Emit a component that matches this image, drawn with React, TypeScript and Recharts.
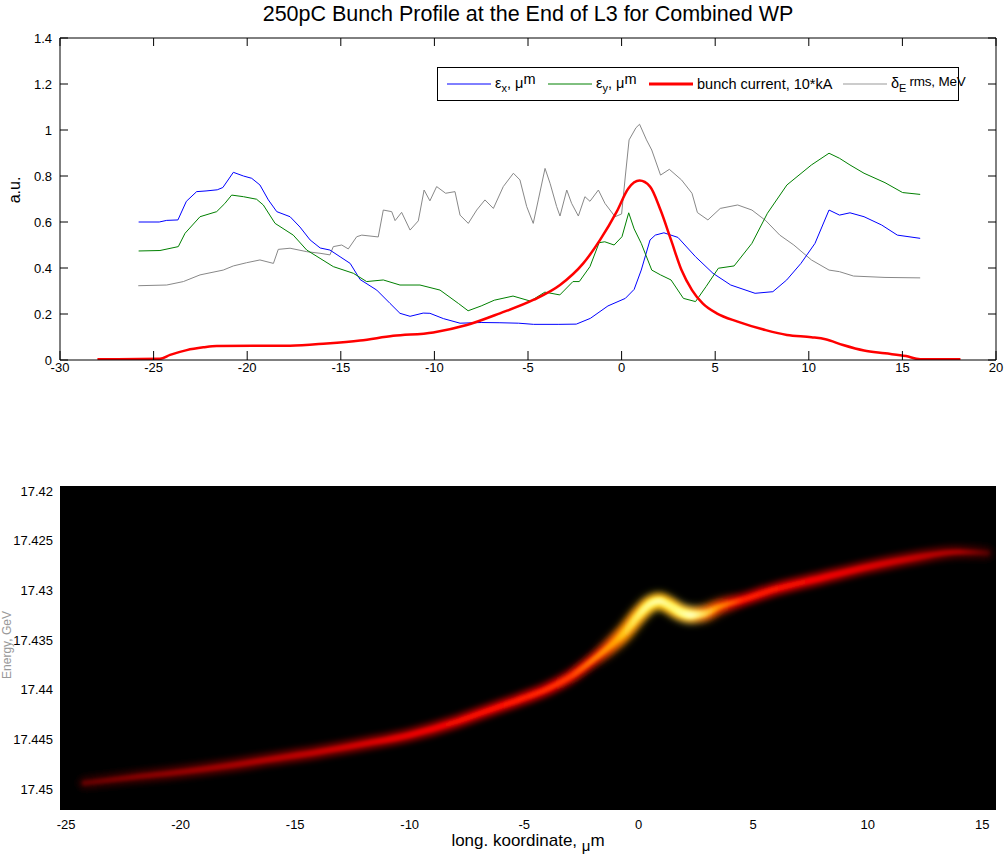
import React from 'react';
import { LineChart, Line, XAxis, YAxis, CartesianGrid } from 'recharts';

const FONT = '"Liberation Sans", Arial, Helvetica, sans-serif';

// ---------------- top panel data ----------------
const epsXPos = [-25.8, -24.7, -24.3, -23.7, -23.25, -22.7, -22.2, -21.6, -21.3, -20.74, -20.2, -19.76, -19.32, -18.87, -18.42, -17.71, -17.18, -16.64, -16.1, -15.58, -15.04, -14.5, -13.97, -13.08, -12.37, -11.84, -11.3, -10.6, -10.24, -9.52, -8.63, -7.5, -6.5, -5.5, -4.7, -3.35, -2.42, -1.67, -0.73, 0.2, 0.67, 1.05, 1.52, 1.8, 2.26, 3.01, 3.95, 4.88, 5.83, 7.13, 8.08, 8.82, 9.58, 10.33, 11.08, 11.64, 12.2, 12.95, 13.89, 14.73, 15.95];
const epsXVal = [0.6, 0.6, 0.607, 0.609, 0.69, 0.732, 0.735, 0.74, 0.75, 0.816, 0.8, 0.79, 0.761, 0.696, 0.645, 0.623, 0.578, 0.522, 0.487, 0.478, 0.449, 0.42, 0.35, 0.304, 0.246, 0.203, 0.19, 0.204, 0.203, 0.18, 0.16, 0.163, 0.162, 0.16, 0.155, 0.155, 0.156, 0.181, 0.235, 0.268, 0.307, 0.391, 0.522, 0.543, 0.553, 0.533, 0.449, 0.377, 0.326, 0.29, 0.297, 0.348, 0.42, 0.507, 0.652, 0.63, 0.64, 0.623, 0.587, 0.543, 0.529];

const epsYPos = [-25.8, -24.66, -23.68, -23.32, -22.52, -21.63, -21.2, -20.83, -20.2, -19.5, -19.14, -18.51, -17.54, -16.82, -16.11, -15.4, -14.33, -13.62, -12.73, -11.84, -10.77, -9.7, -8.72, -8.2, -7.5, -6.8, -5.8, -4.87, -4.1, -3.3, -2.6, -2.26, -1.69, -1.2, -0.9, -0.4, 0.02, 0.38, 0.67, 1.05, 1.61, 2.08, 2.64, 3.3, 3.95, 4.51, 5.17, 6.01, 6.96, 7.79, 8.83, 10.14, 11.08, 11.64, 12.2, 12.95, 14.07, 15.01, 15.95];
const epsYVal = [0.474, 0.476, 0.493, 0.551, 0.623, 0.645, 0.68, 0.717, 0.71, 0.699, 0.674, 0.594, 0.543, 0.478, 0.442, 0.406, 0.377, 0.341, 0.348, 0.326, 0.326, 0.304, 0.246, 0.214, 0.235, 0.26, 0.278, 0.256, 0.295, 0.283, 0.341, 0.341, 0.406, 0.51, 0.514, 0.5, 0.536, 0.64, 0.57, 0.507, 0.391, 0.37, 0.348, 0.268, 0.254, 0.319, 0.399, 0.409, 0.507, 0.638, 0.761, 0.848, 0.899, 0.877, 0.848, 0.812, 0.771, 0.728, 0.72];

const currentPos = [-28.0, -24.66, -24.12, -23.23, -22.34, -21.63, -17.71, -15.75, -13.97, -12.2, -10.06, -8.27, -6.5, -4.72, -3.29, -2.05, -1.15, -0.26, 0.36, 0.96, 1.52, 2.08, 2.64, 3.2, 3.76, 4.33, 5.08, 6.2, 7.7, 8.83, 10.14, 10.89, 11.83, 12.95, 14.07, 15.19, 15.95, 18.1];
const currentVal = [0.003, 0.005, 0.022, 0.043, 0.055, 0.061, 0.062, 0.072, 0.085, 0.105, 0.12, 0.152, 0.203, 0.261, 0.326, 0.42, 0.522, 0.645, 0.746, 0.78, 0.754, 0.652, 0.522, 0.391, 0.304, 0.246, 0.203, 0.167, 0.13, 0.109, 0.099, 0.09, 0.065, 0.041, 0.029, 0.017, 0.003, 0.003];

const spreadPos = [-25.82, -24.3, -23.41, -22.52, -21.28, -20.74, -20.03, -19.32, -18.6, -18.34, -17.71, -16.82, -16.11, -15.58, -15.4, -14.95, -14.6, -14.15, -13.88, -13.0, -12.73, -12.28, -12.1, -11.75, -11.3, -10.86, -10.55, -10.24, -9.88, -9.4, -8.9, -8.63, -8.19, -7.74, -7.3, -6.85, -6.32, -5.78, -5.43, -5.07, -4.72, -4.45, -4.09, -3.82, -3.47, -3.29, -2.93, -2.67, -2.31, -1.96, -1.69, -1.24, -0.89, -0.35, 0.0, 0.2, 0.4, 0.77, 0.96, 1.33, 1.61, 2.08, 2.55, 3.2, 3.76, 4.05, 4.61, 5.27, 6.2, 6.96, 7.7, 8.45, 9.2, 10.14, 11.08, 11.64, 12.39, 14.07, 15.95];
const spreadVal = [0.323, 0.326, 0.341, 0.37, 0.391, 0.409, 0.423, 0.435, 0.42, 0.481, 0.486, 0.471, 0.464, 0.457, 0.493, 0.5, 0.483, 0.536, 0.543, 0.535, 0.652, 0.645, 0.606, 0.642, 0.565, 0.605, 0.739, 0.692, 0.754, 0.725, 0.732, 0.63, 0.594, 0.652, 0.696, 0.659, 0.754, 0.812, 0.783, 0.667, 0.594, 0.696, 0.833, 0.768, 0.667, 0.626, 0.739, 0.681, 0.626, 0.71, 0.69, 0.739, 0.681, 0.623, 0.635, 0.8, 0.957, 1.01, 1.025, 0.957, 0.913, 0.804, 0.829, 0.783, 0.725, 0.641, 0.609, 0.659, 0.674, 0.652, 0.606, 0.543, 0.5, 0.435, 0.391, 0.384, 0.365, 0.359, 0.357];

const topXTicks = [-30, -25, -20, -15, -10, -5, 0, 5, 10, 15, 20];
const topYTicks = [0, 0.2, 0.4, 0.6, 0.8, 1, 1.2, 1.4];

// ---------------- bottom panel data ----------------
const ridgeZ = [-24.2, -22, -20, -18, -16, -14, -12, -10, -8, -7, -6, -5, -4, -3, -2, -1.2, -0.6, 0, 0.5, 0.9, 1.3, 1.8, 2.3, 2.8, 3.5, 4.5, 6, 8, 10, 12, 14, 15.2];
const ridgeE = [17.44938, 17.44877, 17.44827, 17.44767, 17.44696, 17.44626, 17.44545, 17.44455, 17.44324, 17.44243, 17.44163, 17.44082, 17.43992, 17.43871, 17.437, 17.43549, 17.43418, 17.43247, 17.43137, 17.43107, 17.43147, 17.43217, 17.43247, 17.43237, 17.43167, 17.43097, 17.42986, 17.42875, 17.42765, 17.42674, 17.42614, 17.42624];

const botXTicks = [-25, -20, -15, -10, -5, 0, 5, 10, 15];
const botYTicks = [17.42, 17.425, 17.43, 17.435, 17.44, 17.445, 17.45];

// colour ramps along the ridge (long. coordinate -> colour)
const bodyStopZ = [-24.2, -22, -18, -14, -10, -6, -3, -1.5, 0, 1, 2.3, 3.3, 4.5, 8, 11, 14, 15.2];
const bodyStopColor = ['#600000', '#800000', '#a00000', '#c00000', '#e80000', '#ff1000', '#ff3800', '#ff9000', '#ffe000', '#ffff50', '#ffff70', '#ffa000', '#ff2000', '#f00000', '#d00000', '#a00000', '#500000'];
const haloStopZ = [-24.2, -20, -14, -8, -4, -1, 1, 2.5, 4, 8, 12, 15.2];
const haloStopColor = ['#300000', '#580000', '#880000', '#c00000', '#e00000', '#ff3000', '#ff6000', '#ff5000', '#e00000', '#c00000', '#900000', '#300000'];
const hotStopZ = [-2, -0.8, 0.5, 1.2, 2.2, 3.2, 4.5];
const hotStopColor = ['#ff6000', '#ffb000', '#ffee30', '#ffe020', '#ffff60', '#ff9000', '#ff4000'];
const hotStopOpacity = [0, 0.85, 1, 1, 1, 0.6, 0];
const coreStopZ = [-1.0, 0.2, 0.9, 1.5, 2.3, 3.0, 3.6];
const coreStopColor = ['#ffff80', '#ffffa0', '#ffffc0', '#ffff90', '#ffffd0', '#ffff80', '#ffff80'];
const coreStopOpacity = [0, 0.9, 1, 0.8, 1, 0.3, 0];

const zip = (xs: number[], ys: number[], k1: string, k2: string) =>
  xs.map((x, i) => ({ [k1]: x, [k2]: ys[i] }));

const epsXData = zip(epsXPos, epsXVal, 'x', 'y');
const epsYData = zip(epsYPos, epsYVal, 'x', 'y');
const currentData = zip(currentPos, currentVal, 'x', 'y');
const spreadData = zip(spreadPos, spreadVal, 'x', 'y');

const ridgeData = zip(ridgeZ, ridgeE, 'z', 'e') as { z: number; e: number }[];
const hotData = ridgeData.filter((d) => d.z >= -2 && d.z <= 4.5);
const coreData = ridgeData.filter((d) => d.z >= -1.2 && d.z <= 3.5);

const gradStops = (zs: number[], cols: string[], ops: number[] | null, zmin: number, zmax: number) =>
  zs.map((z, i) => (
    <stop key={i} offset={`${(((z - zmin) / (zmax - zmin)) * 100).toFixed(2)}%`} stopColor={cols[i]} stopOpacity={ops ? ops[i] : 1} />
  ));

const zMinOf = (d: { z: number }[]) => d[0].z;
const zMaxOf = (d: { z: number }[]) => d[d.length - 1].z;

const tickStyle = { fontSize: 13, fill: '#000', fontFamily: FONT };

const legendItems = [
  { color: '#0000ff', width: 1, left: 9, label: (<>ε<sub style={{ fontSize: 11 }}>x</sub>, μ<span style={{ position: 'relative', top: -4 }}>m</span></>) },
  { color: '#008000', width: 1, left: 110, label: (<>ε<sub style={{ fontSize: 11 }}>y</sub>, μ<span style={{ position: 'relative', top: -4 }}>m</span></>) },
  { color: '#ff0000', width: 3, left: 211, label: <>bunch current, 10*kA</> },
  { color: '#999999', width: 1, left: 405, label: (<>δ<sub style={{ fontSize: 11 }}>E</sub><span style={{ position: 'relative', top: -2, fontSize: 13.5, marginLeft: 3, letterSpacing: -0.2 }}>rms, MeV</span></>) },
];

const blank = () => '';

export default function App() {
  return (
    <div style={{ position: 'absolute', left: 0, top: 0, width: 1008, height: 860, background: '#fff', fontFamily: FONT, overflow: 'hidden' }}>
      <style>{`
        .heat-halo .recharts-line-curve { filter: url(#blurHalo); }
        .heat-body .recharts-line-curve { filter: url(#blurBody); }
        .heat-hot .recharts-line-curve { filter: url(#blurHot); }
        .heat-core .recharts-line-curve { filter: url(#blurCore); }
      `}</style>
      <svg width={0} height={0} style={{ position: 'absolute' }}>
        <defs>
          <linearGradient id="gHalo" x1="0" y1="0" x2="1" y2="0">
            {gradStops(haloStopZ, haloStopColor, null, zMinOf(ridgeData), zMaxOf(ridgeData))}
          </linearGradient>
          <linearGradient id="gBody" x1="0" y1="0" x2="1" y2="0">
            {gradStops(bodyStopZ, bodyStopColor, null, zMinOf(ridgeData), zMaxOf(ridgeData))}
          </linearGradient>
          <linearGradient id="gHot" x1="0" y1="0" x2="1" y2="0">
            {gradStops(hotStopZ, hotStopColor, hotStopOpacity, zMinOf(hotData), zMaxOf(hotData))}
          </linearGradient>
          <linearGradient id="gCore" x1="0" y1="0" x2="1" y2="0">
            {gradStops(coreStopZ, coreStopColor, coreStopOpacity, zMinOf(coreData), zMaxOf(coreData))}
          </linearGradient>
          <filter id="blurHalo" x="-10%" y="-40%" width="120%" height="180%"><feGaussianBlur stdDeviation="3.2" /></filter>
          <filter id="blurBody" x="-10%" y="-40%" width="120%" height="180%"><feGaussianBlur stdDeviation="1.4" /></filter>
          <filter id="blurHot" x="-40%" y="-80%" width="180%" height="260%"><feGaussianBlur stdDeviation="4" /></filter>
          <filter id="blurCore" x="-40%" y="-80%" width="180%" height="260%"><feGaussianBlur stdDeviation="2" /></filter>
        </defs>
      </svg>

      {/* title */}
      <div style={{ position: 'absolute', left: 60, top: 2, width: 936, textAlign: 'center', fontSize: 21.5, color: '#000', whiteSpace: 'nowrap' }}>
        250pC Bunch Profile at the End of L3 for Combined WP
      </div>
      {/* y label top */}
      <div style={{ position: 'absolute', left: -15, top: 180, width: 60, height: 20, lineHeight: '20px', textAlign: 'center', fontSize: 16, transform: 'rotate(-90deg)', color: '#000' }}>
        a.u.
      </div>

      <div style={{ position: 'absolute', left: 0, top: 0 }}>
        <LineChart width={1008} height={400} margin={{ top: 37, right: 11, bottom: 10, left: 10 }}>
          <XAxis dataKey="x" type="number" domain={[-30, 20]} ticks={topXTicks} allowDataOverflow
            tick={tickStyle} tickSize={-9} tickMargin={12} height={30}
            axisLine={{ stroke: '#000' }} tickLine={{ stroke: '#000' }} />
          <XAxis xAxisId="top" dataKey="x" orientation="top" type="number" domain={[-30, 20]} ticks={topXTicks} allowDataOverflow
            tickFormatter={blank} tickSize={-8} tickMargin={0} height={1}
            axisLine={{ stroke: '#000' }} tickLine={{ stroke: '#000' }} />
          <YAxis type="number" domain={[0, 1.4]} ticks={topYTicks} allowDataOverflow
            tick={tickStyle} tickSize={-8} tickMargin={16} width={50}
            axisLine={{ stroke: '#000' }} tickLine={{ stroke: '#000' }} />
          <YAxis yAxisId="right" orientation="right" type="number" domain={[0, 1.4]} ticks={topYTicks} allowDataOverflow
            tickFormatter={blank} tickSize={-8} tickMargin={0} width={1}
            axisLine={{ stroke: '#000' }} tickLine={{ stroke: '#000' }} />
          <Line xAxisId="top" yAxisId="right" data={currentData} dataKey="y" type="linear" stroke="none" strokeOpacity={0} dot={false} activeDot={false} legendType="none" isAnimationActive={false} />
          <Line data={spreadData} dataKey="y" type="linear" stroke="#888888" strokeWidth={1} dot={false} activeDot={false} isAnimationActive={false} />
          <Line data={epsXData} dataKey="y" type="linear" stroke="#0000ff" strokeWidth={1} dot={false} activeDot={false} isAnimationActive={false} />
          <Line data={epsYData} dataKey="y" type="linear" stroke="#008000" strokeWidth={1} dot={false} activeDot={false} isAnimationActive={false} />
          <Line data={currentData} dataKey="y" type="monotone" stroke="#ff0000" strokeWidth={2.5} dot={false} activeDot={false} isAnimationActive={false} />
        </LineChart>
      </div>

      {/* legend */}
      <div style={{ position: 'absolute', left: 437, top: 67, width: 522, height: 34, border: '1px solid #000', boxSizing: 'border-box', background: '#fff', fontSize: 14.5, color: '#000', whiteSpace: 'nowrap' }}>
        {legendItems.map((it, i) => (
          <div key={i} style={{ position: 'absolute', left: it.left, top: 0, height: 32, display: 'flex', alignItems: 'center' }}>
            <svg width={44} height={6} style={{ display: 'block' }}>
              <line x1={0} y1={3} x2={44} y2={3} stroke={it.color} strokeWidth={it.width} />
            </svg>
            <span style={{ marginLeft: 4 }}>{it.label}</span>
          </div>
        ))}
      </div>

      {/* bottom panel */}
      <div style={{ position: 'absolute', left: 0, top: 440 }}>
        <LineChart width={1008} height={420} margin={{ top: 46, right: 12, bottom: 0, left: 0 }}>
          <CartesianGrid fill="#000" fillOpacity={1} horizontal={false} vertical={false} stroke="none" />
          <XAxis dataKey="z" type="number" domain={[-25.27, 15.6]} ticks={botXTicks} allowDataOverflow
            tick={tickStyle} tickSize={0} tickMargin={10} height={50} axisLine={false} tickLine={false} />
          <YAxis type="number" domain={[17.4195, 17.4521]} reversed ticks={botYTicks} allowDataOverflow
            tick={tickStyle} tickSize={0} tickMargin={7} width={60} axisLine={false} tickLine={false} />
          <Line className="heat-halo" data={ridgeData} dataKey="e" type="monotone" stroke="url(#gHalo)" strokeWidth={12} strokeLinecap="round" dot={false} activeDot={false} isAnimationActive={false} />
          <Line className="heat-body" data={ridgeData} dataKey="e" type="monotone" stroke="url(#gBody)" strokeWidth={5} strokeLinecap="round" dot={false} activeDot={false} isAnimationActive={false} />
          <Line className="heat-hot" data={hotData} dataKey="e" type="monotone" stroke="url(#gHot)" strokeWidth={14} strokeLinecap="round" dot={false} activeDot={false} isAnimationActive={false} />
          <Line className="heat-core" data={coreData} dataKey="e" type="monotone" stroke="url(#gCore)" strokeWidth={5} strokeLinecap="round" dot={false} activeDot={false} isAnimationActive={false} />
        </LineChart>
      </div>

      {/* bottom axis labels */}
      <div style={{ position: 'absolute', left: 60, top: 831, width: 936, textAlign: 'center', fontSize: 17, color: '#000', whiteSpace: 'nowrap' }}>
        long. koordinate, <span style={{ position: 'relative', top: 5, fontSize: 15 }}>μ</span>m
      </div>
      <div style={{ position: 'absolute', left: -43, top: 638, width: 100, height: 14, lineHeight: '14px', textAlign: 'center', fontSize: 12, transform: 'rotate(-90deg)', color: '#999', whiteSpace: 'nowrap' }}>
        Energy, GeV
      </div>
    </div>
  );
}
